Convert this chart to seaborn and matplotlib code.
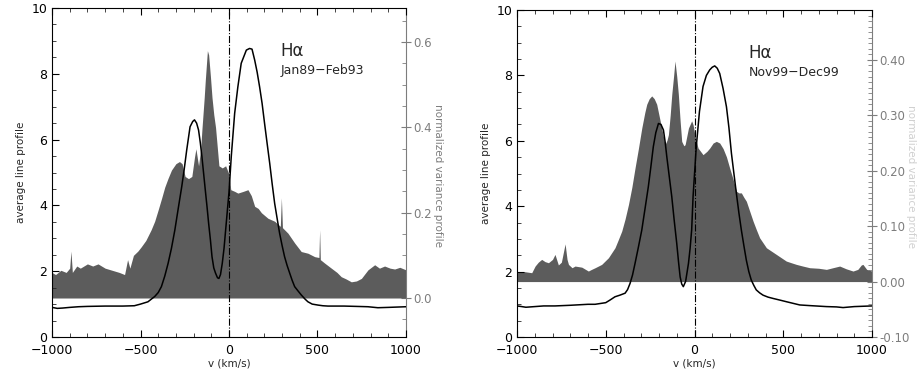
import matplotlib
matplotlib.use('Agg')
import matplotlib.pyplot as plt
import seaborn as sns
import pandas as pd
from matplotlib.ticker import MultipleLocator, FormatStrFormatter

# ---- panel 1: Jan89-Feb93 ----
var1_v = [-1000, -980, -950, -920, -900, -893, -885, -860, -840, -800, -770, -740, -700, -660,
          -620, -590, -573, -560, -540, -515, -496, -470, -440, -420, -400, -380, -363, -345,
          -325, -300, -280, -265, -248, -229, -210, -195, -187, -172, -160, -153, -140, -134,
          -122, -115, -105, -96, -86, -76, -57, -38, -19, 0, 10, 32, 50, 80, 107, 126, 145,
          165, 183, 220, 258, 290, 296, 302, 333, 371, 408, 446, 484, 508, 512, 516, 540,
          578, 610, 634, 660, 691, 720, 748, 785, 823, 850, 879, 910, 936, 965, 1000]
var1 = [0.06, 0.055, 0.065, 0.06, 0.07, 0.11, 0.06, 0.075, 0.07, 0.08, 0.075, 0.08, 0.07, 0.065,
        0.06, 0.055, 0.09, 0.07, 0.10, 0.11, 0.12, 0.135, 0.16, 0.18, 0.207, 0.235, 0.26, 0.28,
        0.30, 0.315, 0.32, 0.315, 0.285, 0.28, 0.285, 0.33, 0.35, 0.31, 0.35, 0.395, 0.47, 0.51,
        0.58, 0.57, 0.52, 0.47, 0.43, 0.40, 0.31, 0.305, 0.31, 0.29, 0.254, 0.25, 0.246, 0.25,
        0.254, 0.24, 0.215, 0.21, 0.20, 0.187, 0.18, 0.168, 0.235, 0.165, 0.152, 0.129, 0.109,
        0.105, 0.097, 0.095, 0.16, 0.09, 0.082, 0.07, 0.06, 0.05, 0.045, 0.038, 0.04, 0.046,
        0.066, 0.078, 0.07, 0.075, 0.07, 0.068, 0.072, 0.066]

line1_v = [-1000, -970, -940, -900, -850, -800, -700, -600, -535, -500, -458, -420, -400, -382,
           -363, -344, -325, -306, -287, -267, -253, -239, -220, -205, -195, -183, -172, -162,
           -153, -143, -134, -124, -115, -105, -96, -86, -76, -65, -57, -48, -38, -28, -19, -10,
           0, 13, 32, 50, 69, 98, 116, 130, 145, 159, 173, 187, 201, 215, 230, 244, 258, 272,
           286, 300, 314, 328, 343, 357, 371, 390, 408, 430, 446, 470, 503, 530, 559, 650, 720,
           785, 841, 900, 950, 1000]
line1 = [0.90, 0.87, 0.88, 0.90, 0.92, 0.93, 0.94, 0.94, 0.95, 1.0, 1.07, 1.23, 1.35, 1.53,
         1.85, 2.24, 2.7, 3.25, 3.9, 4.57, 5.1, 5.68, 6.39, 6.55, 6.6, 6.5, 6.29, 5.9, 5.48,
         4.95, 4.47, 3.95, 3.45, 2.95, 2.44, 2.1, 1.94, 1.80, 1.78, 1.9, 2.24, 2.7, 3.25, 3.8,
         4.4, 5.5, 6.8, 7.6, 8.32, 8.72, 8.77, 8.75, 8.42, 8.05, 7.6, 7.1, 6.49, 5.9, 5.28,
         4.65, 4.06, 3.6, 3.15, 2.78, 2.44, 2.18, 1.94, 1.72, 1.53, 1.40, 1.28, 1.15, 1.07, 1.0,
         0.97, 0.95, 0.94, 0.94, 0.93, 0.92, 0.89, 0.90, 0.91, 0.92]

# ---- panel 2: Nov99-Dec99 ----
var2_v = [-1000, -960, -917, -898, -880, -861, -842, -823, -800, -786, -767, -750, -729, -718,
          -710, -690, -673, -635, -598, -580, -560, -523, -485, -448, -430, -410, -391, -372,
          -353, -335, -316, -297, -280, -269, -255, -241, -227, -213, -200, -185, -166, -155,
          -147, -137, -128, -118, -110, -100, -91, -81, -72, -60, -53, -34, -16, -8, 5, 20, 48,
          70, 86, 105, 123, 142, 161, 180, 198, 217, 236, 250, 264, 278, 292, 311, 330, 348,
          367, 386, 405, 433, 461, 489, 517, 545, 574, 610, 649, 700, 743, 780, 818, 855, 893,
          920, 940, 949, 970, 1000]
var2 = [0.016, 0.018, 0.016, 0.028, 0.035, 0.04, 0.036, 0.034, 0.04, 0.049, 0.03, 0.035, 0.068,
        0.04, 0.031, 0.025, 0.028, 0.026, 0.019, 0.022, 0.025, 0.031, 0.043, 0.061, 0.075,
        0.091, 0.113, 0.139, 0.17, 0.205, 0.24, 0.277, 0.305, 0.32, 0.33, 0.335, 0.33, 0.32,
        0.30, 0.277, 0.247, 0.255, 0.265, 0.30, 0.338, 0.37, 0.398, 0.37, 0.338, 0.29, 0.253,
        0.245, 0.247, 0.277, 0.29, 0.283, 0.26, 0.241, 0.229, 0.235, 0.241, 0.25, 0.253, 0.25,
        0.24, 0.225, 0.205, 0.185, 0.163, 0.16, 0.16, 0.152, 0.145, 0.127, 0.109, 0.094, 0.079,
        0.07, 0.061, 0.055, 0.049, 0.043, 0.037, 0.034, 0.031, 0.028, 0.025, 0.024, 0.022,
        0.025, 0.028, 0.023, 0.019, 0.022, 0.03, 0.031, 0.022, 0.019]

line2_v = [-1000, -973, -950, -900, -850, -786, -700, -600, -560, -500, -476, -448, -420, -391,
           -377, -363, -349, -335, -316, -297, -278, -260, -246, -232, -218, -203, -189, -175,
           -165, -156, -142, -128, -114, -100, -90, -81, -72, -63, -50, -34, -25, -16, -8, 10,
           28, 48, 67, 86, 100, 114, 128, 142, 161, 180, 194, 208, 222, 236, 250, 264, 278, 292,
           306, 320, 334, 348, 367, 386, 414, 442, 480, 517, 555, 593, 650, 743, 800, 837, 900,
           950, 1000]
line2 = [0.95, 0.93, 0.91, 0.93, 0.95, 0.95, 0.97, 1.0, 1.0, 1.05, 1.13, 1.23, 1.28, 1.34,
         1.45, 1.64, 1.9, 2.25, 2.75, 3.27, 3.95, 4.6, 5.2, 5.82, 6.25, 6.53, 6.5, 6.33, 5.95,
         5.51, 4.9, 4.29, 3.55, 2.86, 2.3, 1.84, 1.62, 1.54, 1.7, 2.25, 2.7, 3.27, 4.3, 5.82,
         6.9, 7.66, 8.0, 8.17, 8.25, 8.29, 8.22, 8.06, 7.6, 7.04, 6.4, 5.62, 5.0, 4.39, 3.8,
         3.27, 2.8, 2.35, 2.0, 1.74, 1.58, 1.44, 1.35, 1.28, 1.22, 1.18, 1.13, 1.08, 1.03, 0.98,
         0.96, 0.93, 0.92, 0.90, 0.93, 0.94, 0.95]

x_ticks = [-1000, -500, 0, 500, 1000]

panels = [
    dict(var_v=var1_v, var=var1, line_v=line1_v, line=line1, period='Jan89\u2212Feb93',
         rect=[52 / 920, 43 / 380, 354 / 920, 329 / 380], vlim=(-0.0914, 0.68),
         vmajor=0.2, vminor=0.05, vfmt='%.1f', text_x=290),
    dict(var_v=var2_v, var=var2, line_v=line2_v, line=line2, period='Nov99\u2212Dec99',
         rect=[517 / 920, 43 / 380, 355 / 920, 327 / 380], vlim=(-0.1, 0.49),
         vmajor=0.1, vminor=0.01, vfmt='%.2f', text_x=305),
]

sns.set_style('ticks')
plt.rcParams['font.family'] = ['DejaVu Sans']

fig = plt.figure(figsize=(9.2, 3.8), dpi=100)
grey = '#5c5c5c'
axis_grey = '#7d7d7d'

for i, p in enumerate(panels):
    ax = fig.add_axes(p['rect'])
    ax2 = ax.twinx()
    # keep the black profile above the grey variance fill
    ax.set_zorder(ax2.get_zorder() + 1)
    ax.patch.set_visible(False)

    ax2.fill_between(p['var_v'], 0, p['var'], color=grey, linewidth=0)
    ax2.set_ylim(*p['vlim'])
    ax2.yaxis.set_major_locator(MultipleLocator(p['vmajor']))
    ax2.yaxis.set_minor_locator(MultipleLocator(p['vminor']))
    ax2.yaxis.set_major_formatter(FormatStrFormatter(p['vfmt']))
    ax2.tick_params(axis='y', which='major', direction='inout', length=7, width=0.8,
                    colors=axis_grey, labelsize=8.5, pad=2)
    ax2.tick_params(axis='y', which='minor', direction='in', length=3, width=0.6,
                    colors=axis_grey)
    for s in ('left', 'top', 'bottom'):
        ax2.spines[s].set_visible(False)
    ax2.spines['right'].set_color(axis_grey)
    ax2.spines['right'].set_linewidth(0.8)
    ax2.set_ylabel('normalized variance profile', rotation=-90, fontsize=7.5,
                   color=axis_grey if i == 0 else '#d0d0d0')
    ax2.yaxis.set_label_coords(1.105 if i == 0 else 1.125, 0.49)

    df = pd.DataFrame({'v': p['line_v'], 'profile': p['line']})
    sns.lineplot(data=df, x='v', y='profile', ax=ax, color='black', linewidth=1.1,
                 estimator=None, sort=False)
    ax.axvline(0, color='black', linestyle='-.', linewidth=0.8)

    ax.set_xlim(-1000, 1000)
    ax.set_ylim(0, 10)
    ax.set_xticks(x_ticks)
    ax.xaxis.set_minor_locator(MultipleLocator(100))
    ax.yaxis.set_major_locator(MultipleLocator(2))
    ax.yaxis.set_minor_locator(MultipleLocator(0.5))
    ax.tick_params(which='major', direction='in', length=5, width=0.8, top=True,
                   labelsize=9, colors='black')
    ax.tick_params(which='minor', direction='in', length=3, width=0.6, top=True)
    ax.tick_params(axis='x', pad=5)
    ax.spines['right'].set_visible(False)
    for s in ('left', 'top', 'bottom'):
        ax.spines[s].set_linewidth(0.8)
        ax.spines[s].set_color('black')
    ax.set_xlabel('v (km/s)', fontsize=7.5, labelpad=1)
    ax.set_ylabel('average line profile', fontsize=7.5, labelpad=4)

    ax.text(p['text_x'], 8.68, 'H\u03b1', fontsize=12, va='center', ha='left')
    ax.text(p['text_x'], 8.1, p['period'], fontsize=9, va='center', ha='left')

fig.savefig('out.png', dpi=100)
